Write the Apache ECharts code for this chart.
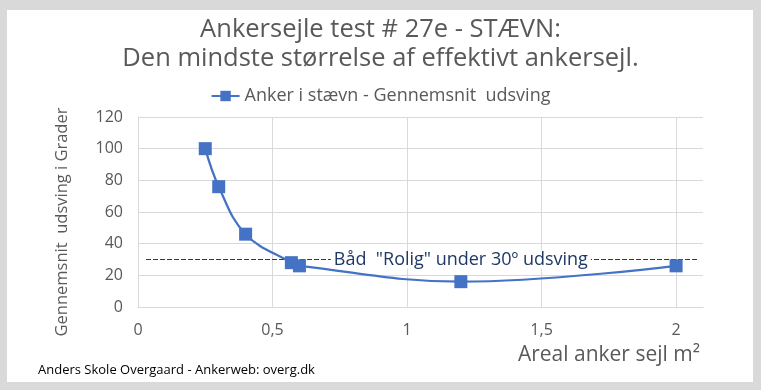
<!DOCTYPE html>
<html>
<head>
<meta charset="utf-8">
<script src="https://cdn.jsdelivr.net/npm/echarts@6/dist/echarts.min.js"></script>
<style>
html,body{margin:0;padding:0;background:#d9d9d9;}
#c{width:761px;height:390px;}
</style>
</head>
<body>
<div id="c"></div>
<script>
// Data
const sailArea = [0.25, 0.3, 0.4, 0.57, 0.6, 1.2, 2];
const avgSwing = [100, 76, 46, 28, 26, 16, 26];
const calmX = [0.03, 2.08];
const calmY = [30, 30];
const calmLabelX = 1.2;
const calmText = 'Båd  "Rolig" under 30º udsving';
const seriesName = 'Anker i stævn - Gennemsnit  udsving';
const titleLines = ['Ankersejle test # 27e - STÆVN:', 'Den mindste størrelse af effektivt ankersejl.'];
const xTitle = 'Areal anker sejl m²';
const yTitle = 'Gennemsnit  udsving i Grader';
const footer = 'Anders Skole Overgaard - Ankerweb: overg.dk';

const font = 'Open Sans';
const gray = '#595959';
const blue = '#4472C4';
const navy = '#1F3864';

const chart = echarts.init(document.getElementById('c'));
chart.setOption({
  backgroundColor: '#d9d9d9',
  animation: false,
  textStyle: {fontFamily: font},
  graphic: [
    {type: 'rect', left: 7, top: 10, shape: {width: 746, height: 372}, style: {fill: '#ffffff'}, z: -10},
    {type: 'text', left: 38, top: 364, style: {text: footer, fill: '#000', font: '13px "Open Sans"'}},
    {type: 'text', x: 62, y: 222, rotation: Math.PI / 2,
      style: {text: yTitle, fill: gray, font: '16.5px "Open Sans"', textAlign: 'center', textVerticalAlign: 'middle'}}
  ],
  title: {
    text: titleLines.join('\n'),
    left: 'center',
    top: 10,
    textStyle: {color: gray, fontSize: 25.5, fontWeight: 'normal', lineHeight: 29, fontFamily: font}
  },
  legend: {
    top: 82,
    left: 'center',
    itemWidth: 28,
    itemHeight: 13,
    itemGap: 8,
    data: [seriesName],
    textStyle: {color: gray, fontSize: 18, fontFamily: font}
  },
  grid: {left: 138, right: 58, top: 117, bottom: 83, containLabel: false},
  xAxis: {
    type: 'value',
    min: 0, max: 2.1, interval: 0.5,
    name: xTitle,
    nameLocation: 'end',
    nameGap: -3,
    nameTextStyle: {color: gray, fontSize: 21, align: 'right', verticalAlign: 'top', padding: [38, 0, 0, 0]},
    axisLine: {show: true, lineStyle: {color: '#d9d9d9'}},
    axisTick: {show: false},
    axisLabel: {color: gray, fontSize: 16, margin: 15, showMaxLabel: false,
      formatter: v => String(v).replace('.', ',')},
    splitLine: {show: true, showMaxLine: false, lineStyle: {color: '#d9d9d9'}}
  },
  yAxis: {
    type: 'value',
    min: 0, max: 120, interval: 20,
    axisLine: {show: true, lineStyle: {color: '#d9d9d9'}},
    axisTick: {show: false},
    axisLabel: {color: gray, fontSize: 16, margin: 15},
    splitLine: {show: true, lineStyle: {color: '#d9d9d9'}}
  },
  series: [
    {
      name: 'calm',
      type: 'line',
      data: calmX.map((x, i) => [x, calmY[i]]),
      symbol: 'none',
      silent: true,
      lineStyle: {color: navy, width: 1, type: [5, 2]},
      markPoint: {
        symbol: 'rect', symbolSize: 0,
        data: [{coord: [calmLabelX, calmY[0]]}],
        label: {show: true, formatter: calmText, position: 'inside', color: navy,
          fontSize: 18, fontFamily: font, backgroundColor: '#fff', padding: [0, 3]}
      },
      z: 1
    },
    {
      name: seriesName,
      type: 'line',
      data: sailArea.map((x, i) => [x, avgSwing[i]]),
      smooth: 0.4,
      symbol: 'rect',
      symbolSize: 13,
      itemStyle: {color: blue},
      lineStyle: {color: blue, width: 2.25},
      z: 3
    }
  ]
});
</script>
</body>
</html>
